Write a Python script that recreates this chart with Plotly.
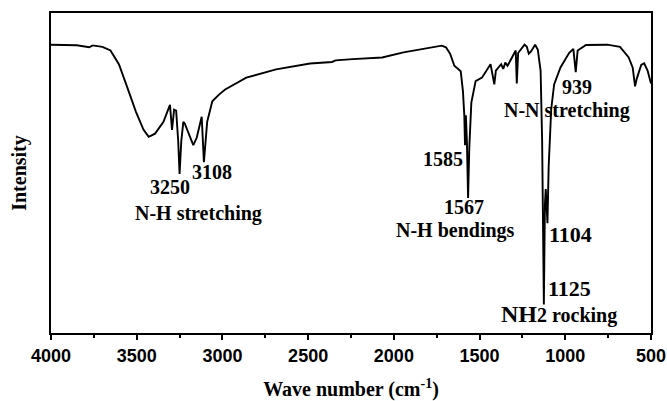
import plotly.graph_objects as go

wavenumber = [4000, 3850, 3777, 3760, 3747, 3700, 3653, 3604, 3554, 3505, 3460, 3430, 3393, 3344, 3306, 3294, 3282, 3270,
              3258, 3250, 3240, 3228, 3220, 3200, 3170, 3150, 3121, 3108, 3089, 3059, 3020, 2984, 2861, 2687, 2489,
              2360, 2340, 2241, 2068, 1944, 1820, 1721, 1696, 1672, 1647, 1622, 1610, 1597, 1589, 1585, 1580, 1574,
              1567, 1560, 1548, 1523, 1486, 1436, 1425, 1414, 1405, 1374, 1362, 1350, 1337, 1313, 1289, 1283, 1275,
              1238, 1225, 1213, 1200, 1176, 1160, 1151, 1144, 1135, 1125, 1119, 1114, 1104, 1097, 1082, 1065, 1028,
              978, 953, 939, 928, 879, 755, 681, 631, 607, 593, 583, 557, 540, 520, 500]
transmittance = [90.1, 89.9, 89.3, 89.8, 89.8, 89.4, 88.3, 84.0, 76.6, 69.2, 63.5, 61.3, 62.3, 66.0, 71.3, 63.5, 69.8, 69.5,
                 60.0, 49.7, 60.0, 66.0, 65.5, 63.0, 58.7, 61.0, 67.6, 53.4, 66.0, 72.4, 74.5, 76.1, 79.8, 82.4, 84.2,
                 84.7, 85.2, 85.6, 86.1, 87.7, 88.8, 89.8, 89.3, 87.3, 83.5, 82.4, 81.8, 75.6, 68.0, 58.7, 68.0, 60.0,
                 42.2, 58.0, 72.0, 78.7, 79.8, 84.0, 80.5, 77.7, 82.0, 84.0, 82.5, 84.5, 83.5, 86.0, 88.3, 78.0, 87.5,
                 90.1, 89.5, 87.3, 88.0, 90.1, 88.5, 84.7, 82.0, 60.0, 8.9, 40.0, 45.0, 34.3, 52.0, 70.0, 77.7, 83.0,
                 87.5, 88.8, 81.5, 88.3, 90.0, 90.1, 89.4, 86.2, 83.0, 77.1, 79.5, 83.8, 84.3, 82.0, 78.0]

peak_labels = ["3250", "3108", "N-H stretching", "1585", "1567", "N-H bendings", "939", "N-N stretching"]
peak_x = [3306, 3061, 3137, 1713, 1591, 1643, 932, 990]
peak_y = [45.6, 50.3, 37.5, 54.5, 39.4, 31.9, 76.9, 69.4]

big_labels = ["1104", "1125", "NH<span style='font-size:20px'>2 rocking</span>"]
big_x = [972, 978, 1037]
big_y = [30.9, 14.0, 5.9]
big_sizes = [22, 22, 24]

fig = go.Figure()
fig.add_trace(go.Scatter(x=wavenumber, y=transmittance, mode="lines",
                         line=dict(color="black", width=1.9), showlegend=False, hoverinfo="skip"))

serif = "Liberation Serif"
for t, x, y in zip(peak_labels, peak_x, peak_y):
    fig.add_annotation(x=x, y=y, xref="x", yref="y", text=t, showarrow=False,
                       font=dict(family=serif, size=20, color="black", weight="bold"))
for t, x, y, s in zip(big_labels, big_x, big_y, big_sizes):
    fig.add_annotation(x=x, y=y, xref="x", yref="y", text=t, showarrow=False,
                       font=dict(family=serif, size=s, color="black", weight="bold"))

fig.update_layout(
    width=667, height=401,
    margin=dict(l=51, r=16, t=13, b=68),
    plot_bgcolor="white", paper_bgcolor="white",
    xaxis=dict(range=[4000, 500], dtick=500, tick0=500, ticks="outside", ticklen=5, tickwidth=2,
               tickcolor="black", showgrid=False, zeroline=False, showline=True, linecolor="black",
               linewidth=2, mirror=True, automargin=False, ticklabelstandoff=0,
               minor=dict(dtick=250, ticks="outside", ticklen=3, tickcolor="black", tickwidth=1.5, showgrid=False),
               tickfont=dict(family="Liberation Sans", size=18, color="black", weight="bold"),
               title=dict(text="Wave number (cm<sup>-1</sup>)", standoff=22,
                          font=dict(family=serif, size=20, color="black", weight="bold"))),
    yaxis=dict(range=[0, 100], showticklabels=False, ticks="", showgrid=False, zeroline=False,
               showline=True, linecolor="black", linewidth=2, mirror=True, automargin=False,
               title=dict(text="Intensity", standoff=17,
                          font=dict(family=serif, size=20, color="black", weight="bold"))),
)

fig.write_html("out.html", config={"displayModeBar": False},
               post_script="document.body.style.margin='0';document.body.style.overflow='hidden';")
